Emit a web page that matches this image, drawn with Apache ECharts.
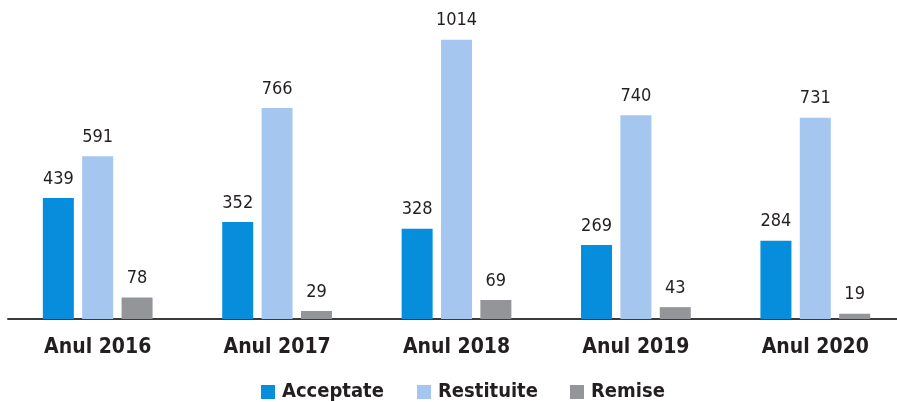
<!DOCTYPE html>
<html><head><meta charset="utf-8">
<script src="https://cdn.jsdelivr.net/npm/echarts@6/dist/echarts.min.js"></script>
<style>html,body{margin:0;padding:0;background:#fff}#c{width:897px;height:402px}</style>
</head><body><div id="c"></div>
<script>
const categories = ['Anul 2016','Anul 2017','Anul 2018','Anul 2019','Anul 2020'];
const acceptate = [439, 352, 328, 269, 284];
const restituite = [591, 766, 1014, 740, 731];
const remise = [78, 29, 69, 43, 19];
const seriesNames = ['Acceptate','Restituite','Remise'];
const colors = ['#068ddc','#a4c6ef','#939598'];
const legendLefts = [256, 412, 565];
const FONT = '"Liberation Sans Narrow","DejaVu Sans Condensed",sans-serif';
const chart = echarts.init(document.getElementById('c'));
const mk = (name, data, color) => ({
  name, type:'bar', data, barWidth:31, barGap:'27%',
  itemStyle:{color},
  label:{show:true, position:'top', distance:10, color:'#231f20', fontFamily:FONT, fontSize:18}
});
chart.setOption({
  animation:false,
  color:colors,
  grid:{left:8, right:-8, top:16, bottom:83, outerBoundsMode:'none', containLabel:false},
  legend: seriesNames.map((n, i) => ({
    left: legendLefts[i], top: 377, itemWidth:14, itemHeight:14, icon:'rect',
    textStyle:{fontFamily:FONT, fontSize:20, fontWeight:'bold', color:'#231f20', padding:[0,0,0,2]},
    data:[n]
  })),
  xAxis:{type:'category', data:categories,
    axisLine:{lineStyle:{color:'#3a3a3a', width:2}}, axisTick:{show:false},
    axisLabel:{fontFamily:FONT, fontSize:21, fontWeight:'bold', color:'#231f20', margin:18}},
  yAxis:{type:'value', min:0, max:1100, show:false, splitLine:{show:false}},
  series:[mk(seriesNames[0], acceptate, colors[0]), mk(seriesNames[1], restituite, colors[1]), mk(seriesNames[2], remise, colors[2])]
});
</script></body></html>
